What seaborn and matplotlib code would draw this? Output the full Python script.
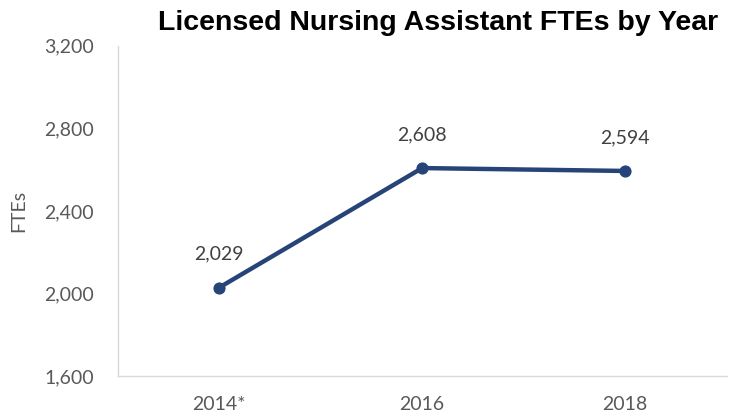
import pandas as pd
import seaborn as sns
import matplotlib.pyplot as plt

# chart data
years = ["2014*", "2016", "2018"]
ftes = [2029, 2608, 2594]
y_ticks = [1600, 2000, 2400, 2800, 3200]

df = pd.DataFrame({"year": years, "fte": ftes})

sns.set_theme(style="white")
plt.rcParams['font.family'] = ['Lato', 'DejaVu Sans']

fig = plt.figure(figsize=(7.4, 4.17), dpi=100)
ax = fig.add_axes([0.159, 0.098, 0.823, 0.792])

line_color = "#264478"
sns.lineplot(data=df, x="year", y="fte", ax=ax, color=line_color,
             linewidth=3.2, marker="o", markersize=8,
             markeredgecolor=line_color, sort=False)

# data labels above the points
for i, v in enumerate(ftes):
    ax.annotate(f"{v:,}", (i, v), xytext=(0, 18), textcoords="offset points",
                ha="center", va="bottom", fontsize=14, color="#404040")

ax.set_xlim(-0.5, 2.5)
ax.set_ylim(1600, 3200)
ax.set_yticks(y_ticks)
ax.set_yticklabels([f"{t:,}" for t in y_ticks])
ax.tick_params(axis="both", length=0, labelsize=14, labelcolor="#595959")
ax.tick_params(axis="y", pad=17)
ax.tick_params(axis="x", pad=14)
ax.set_xlabel("")
ax.set_ylabel("FTEs", fontsize=14, color="#595959", labelpad=12)

for side in ["top", "right"]:
    ax.spines[side].set_visible(False)
for side in ["left", "bottom"]:
    ax.spines[side].set_color("#d9d9d9")
    ax.spines[side].set_linewidth(1.0)

fig.text(0.592, 0.945, "Licensed Nursing Assistant FTEs by Year",
         ha="center", va="center", fontsize=20.5, fontweight="bold",
         family=['Liberation Sans', 'DejaVu Sans'], color="black")

fig.savefig("out.png", dpi=100)
